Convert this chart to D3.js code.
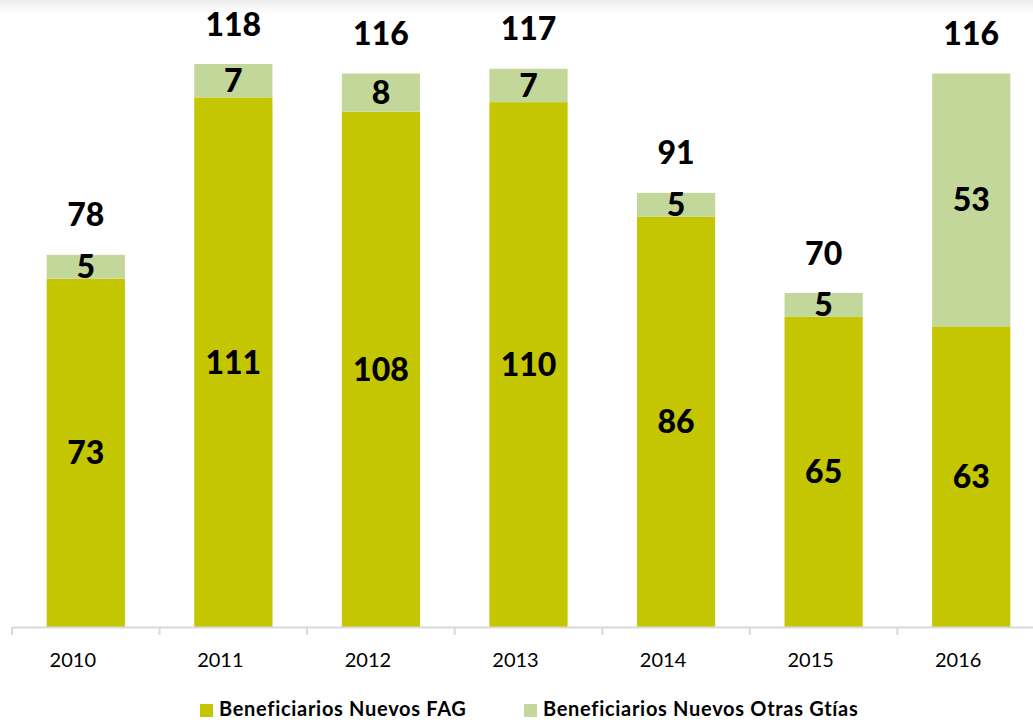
<!DOCTYPE html>
<html>
<head>
<meta charset="utf-8">
<script src="https://cdn.jsdelivr.net/npm/d3@7"></script>
<style>
  body { margin: 0; background: #fff; }
  svg { display: block; font-family: Lato, "Open Sans", sans-serif; }
</style>
</head>
<body>
<svg width="1033" height="722"></svg>
<script>
const years = ["2010", "2011", "2012", "2013", "2014", "2015", "2016"];
const fag = [73, 111, 108, 110, 86, 65, 63];
const otras = [5, 7, 8, 7, 5, 5, 53];
const totals = [78, 118, 116, 117, 91, 70, 116];
const seriesNames = ["Beneficiarios Nuevos FAG", "Beneficiarios Nuevos Otras Gtías"];
const colors = ["#c3c600", "#c4d79b"];

const svg = d3.select("svg");

// faint shadow at the top
const defs = svg.append("defs");
const grad = defs.append("linearGradient").attr("id", "topShade").attr("x1", 0).attr("y1", 0).attr("x2", 0).attr("y2", 1);
grad.append("stop").attr("offset", "0%").attr("stop-color", "#ececec");
grad.append("stop").attr("offset", "100%").attr("stop-color", "#ffffff");
svg.append("rect").attr("x", 0).attr("y", 0).attr("width", 1033).attr("height", 14).attr("fill", "url(#topShade)");

const data = years.map((y, i) => ({ year: y, fag: fag[i], otras: otras[i], total: totals[i] }));

const x = d3.scaleBand()
  .domain(years)
  .range([12, 1045])
  .paddingInner(0.47)
  .paddingOuter(0.235);

const y = d3.scaleLinear()
  .domain([0, 118])
  .range([627, 64]);

const stacked = d3.stack().keys(["fag", "otras"])(data);

const g = svg.append("g");

g.selectAll(".layer")
  .data(stacked)
  .enter().append("g")
  .attr("fill", (d, i) => colors[i])
  .selectAll("rect")
  .data(d => d)
  .enter().append("rect")
  .attr("x", d => x(d.data.year))
  .attr("y", d => y(d[1]))
  .attr("width", x.bandwidth())
  .attr("height", d => y(d[0]) - y(d[1]));

// segment labels
stacked.forEach(layer => {
  g.selectAll(null)
    .data(layer)
    .enter().append("text")
    .attr("x", d => x(d.data.year) + x.bandwidth() / 2)
    .attr("y", d => (y(d[0]) + y(d[1])) / 2)
    .attr("dy", "0.36em")
    .attr("text-anchor", "middle")
    .attr("font-size", "32px")
    .attr("font-weight", "900")
    .attr("fill", "#000")
    .text(d => d[1] - d[0]);
});

// totals
g.selectAll(".total")
  .data(data)
  .enter().append("text")
  .attr("x", d => x(d.year) + x.bandwidth() / 2)
  .attr("y", d => y(d.total) - 40)
  .attr("dy", "0.36em")
  .attr("text-anchor", "middle")
  .attr("font-size", "32px")
  .attr("font-weight", "900")
  .attr("fill", "#000")
  .text(d => d.total);

// x axis
const gap = (x.step() - x.bandwidth()) / 2;
const axis = svg.append("g");
axis.append("line")
  .attr("x1", 12).attr("x2", 1045)
  .attr("y1", 627.5).attr("y2", 627.5)
  .attr("stroke", "#d9d9d9").attr("stroke-width", 2);
axis.selectAll(".tick")
  .data(years)
  .enter().append("line")
  .attr("x1", d => x(d) - gap)
  .attr("x2", d => x(d) - gap)
  .attr("y1", 627).attr("y2", 635)
  .attr("stroke", "#d9d9d9").attr("stroke-width", 2);
// labels sit a little left of the bar centres in the original
axis.selectAll(".lbl")
  .data(years)
  .enter().append("text")
  .attr("x", d => x(d) + x.bandwidth() / 2 - 13)
  .attr("y", 660)
  .attr("dy", "0.36em")
  .attr("text-anchor", "middle")
  .attr("font-size", "20px")
  .attr("fill", "#000")
  .text(d => d);

// legend
const legendX = [200, 524];
const legend = svg.append("g");
seriesNames.forEach((name, i) => {
  legend.append("rect")
    .attr("x", legendX[i]).attr("y", 704)
    .attr("width", 13).attr("height", 13)
    .attr("fill", colors[i]);
  legend.append("text")
    .attr("x", legendX[i] + 19).attr("y", 709)
    .attr("dy", "0.36em")
    .attr("font-size", "20px")
    .attr("font-weight", "bold")
    .attr("letter-spacing", "0.7px")
    .attr("fill", "#000")
    .text(name);
});
</script>
</body>
</html>
